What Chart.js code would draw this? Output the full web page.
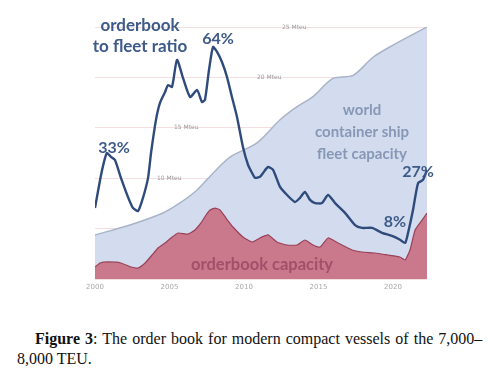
<!DOCTYPE html>
<html><head><meta charset="utf-8">
<script src="https://cdn.jsdelivr.net/npm/chart.js@4/dist/chart.umd.min.js"></script>
<style>
html,body{margin:0;padding:0;background:#fff;width:496px;height:369px;overflow:hidden;}
#wrap{position:absolute;left:0;top:0;width:496px;height:300px;}
#cap{position:absolute;left:17px;top:329px;font-family:"Liberation Serif","Times New Roman",serif;font-size:16px;line-height:20px;color:#111;white-space:nowrap;}
#cap .l1{padding-left:18px;word-spacing:1.05px;}
</style></head>
<body>
<div id="wrap"><canvas id="c"></canvas></div>
<div id="cap"><span class="l1"><b>Figure 3</b>: The order book for modern compact vessels of the 7,000–</span><br>8,000 TEU.</div>
<script>
// orderbook-to-fleet ratio (%)
const ratioYears = [2000.0,2000.34,2000.6,2000.8,2001.07,2001.34,2001.74,2002.08,2002.35,2002.55,2002.89,2003.22,2003.56,2003.76,2004.09,2004.36,2004.7,2004.9,2005.17,2005.5,2005.91,2006.38,2006.85,2007.18,2007.38,2007.65,2007.92,2008.19,2008.52,2008.86,2009.19,2009.53,2009.93,2010.27,2010.54,2010.74,2011.07,2011.28,2011.61,2011.95,2012.42,2012.89,2013.42,2013.76,2014.09,2014.43,2014.77,2015.23,2015.64,2016.11,2016.78,2017.45,2017.92,2018.59,2019.26,2019.93,2020.47,2020.81,2021.01,2021.34,2021.68,2022.01,2022.28];
const ratioValues = [18.0,26.0,31.1,33.7,32.6,31.7,26.6,22.6,19.7,18.0,17.1,20.9,26.6,33.7,43.1,48.0,51.1,53.1,52.6,60.3,55.1,49.7,51.7,48.3,48.9,57.4,64.0,62.6,59.7,55.4,49.7,44.0,35.4,30.3,28.0,26.6,26.9,28.0,29.7,28.9,24.0,21.7,19.7,20.9,22.6,20.3,19.4,19.4,21.7,19.4,16.6,13.1,12.3,12.3,10.9,10.0,8.9,8.0,10.9,17.4,25.1,26.0,28.9];
// world container ship fleet capacity (Mteu)
const fleetYears = [2000.0,2002.35,2004.56,2005.7,2006.85,2007.92,2009.06,2010.87,2012.42,2013.56,2014.63,2015.97,2017.32,2018.66,2020.0,2022.28];
const fleetValues = [4.37,5.36,6.55,7.54,8.83,10.5,12.1,13.5,15.8,17.1,18.1,19.9,20.2,22.0,23.2,25.0];
// orderbook capacity (Mteu)
const orderYears = [2000.0,2000.34,2000.87,2001.74,2002.42,2002.89,2003.36,2003.83,2004.23,2004.7,2005.1,2005.57,2006.24,2006.71,2007.11,2007.45,2007.72,2008.05,2008.39,2008.79,2009.26,2009.93,2010.54,2011.07,2011.61,2012.21,2012.89,2013.56,2014.09,2014.63,2015.1,2015.64,2016.31,2017.25,2017.92,2018.79,2019.66,2020.47,2020.81,2021.14,2021.48,2021.95,2022.28];
const orderValues = [1.19,1.59,1.69,1.59,1.19,1.09,1.59,2.38,3.08,3.57,4.07,4.56,4.46,4.86,5.56,6.35,6.85,7.04,6.85,6.05,5.16,4.17,3.67,4.07,4.37,3.67,3.37,3.37,3.87,3.37,3.17,4.07,3.57,2.88,2.68,2.58,2.38,2.18,1.88,2.88,4.86,5.85,6.55];
const xTickLabels = [2000,2005,2010,2015,2020];
const capacityGridLabels = ['10 Mteu','15 Mteu','20 Mteu','25 Mteu'];

const pts = (xs, ys) => xs.map((x,i)=>({x:x,y:ys[i]}));

const textPlugin = {
  id:'texts',
  beforeDatasetsDraw(chart){
    const {ctx, scales:{x,y}} = chart;
    ctx.save();
    ctx.font = '6px "DejaVu Sans", sans-serif';
    ctx.fillStyle = '#9a9a9a';
    ctx.textBaseline = 'middle';
    ctx.textAlign = 'left';
    const pos = [2004.16, 2005.3, 2010.87, 2012.55];
    capacityGridLabels.forEach((t,i)=>{
      ctx.fillText(t, x.getPixelForValue(pos[i]), y.getPixelForValue(10+5*i));
    });
    ctx.restore();
  },
  afterDatasetsDraw(chart){
    const {ctx, scales:{x,y}} = chart;
    const put = (t, xv, yv, font, color) => {
      ctx.font = font; ctx.fillStyle = color;
      ctx.textAlign = 'center'; ctx.textBaseline = 'alphabetic';
      ctx.fillText(t, x.getPixelForValue(xv), y.getPixelForValue(yv));
    };
    ctx.save();
    const navy = '#3d5a89';
    put('orderbook', 2003.02, 24.6, 'bold 17px Lato', navy);
    put('to fleet ratio', 2003.02, 22.52, 'bold 17px Lato', navy);
    put('64%', 2008.26, 23.31, 'bold 16px Lato', navy);
    put('33%', 2001.28, 12.5, 'bold 16px Lato', navy);
    put('27%', 2021.68, 10.12, 'bold 16px Lato', navy);
    put('8%', 2020.13, 5.16, 'bold 16px Lato', navy);
    const gb = '#8797b6';
    put('world', 2017.92, 16.27, 'bold 15px Lato', gb);
    put('container ship', 2017.92, 14.09, 'bold 15px Lato', gb);
    put('fleet capacity', 2017.92, 11.9, 'bold 15px Lato', gb);
    put('orderbook capacity', 2011.21, 0.89, 'bold 16.5px Lato', 'rgba(150,65,95,0.75)');
    ctx.restore();
  }
};

new Chart(document.getElementById('c'), {
  type:'line',
  data:{datasets:[
    {label:'ratio', data:pts(ratioYears, ratioValues), yAxisID:'y2', borderColor:'#2f4b7c', borderWidth:2.4, pointRadius:0, tension:0.2, fill:false, order:0},
    {label:'orderbook', data:pts(orderYears, orderValues), yAxisID:'y', borderColor:'#9a4058', backgroundColor:'#c9798b', borderWidth:1.2, pointRadius:0, tension:0.15, fill:'origin', order:1},
    {label:'fleet', data:pts(fleetYears, fleetValues), yAxisID:'y', borderColor:'#a9b4c8', backgroundColor:'#d2dcee', borderWidth:1.5, pointRadius:0, tension:0.3, fill:'origin', order:2}
  ]},
  options:{
    responsive:true, maintainAspectRatio:false, animation:false,
    layout:{padding:{left:95,right:69,top:27,bottom:8}},
    plugins:{legend:{display:false}, tooltip:{enabled:false}},
    scales:{
      x:{type:'linear', min:2000, max:2022.28,
        afterBuildTicks: ax => { ax.ticks = xTickLabels.map(v=>({value:v})); },
        afterFit: ax => { ax.height = 13; },
        ticks:{font:{size:7, family:'"DejaVu Sans"'}, color:'#a8a8a8', padding:4, maxRotation:0, autoSkip:false, callback:v=>String(v)},
        grid:{display:false, drawTicks:false, tickLength:0}, border:{display:false}},
      y:{min:0, max:25, display:true, ticks:{display:false, stepSize:5}, grid:{color:'rgba(238,210,210,0.7)', drawTicks:false, tickLength:0}, border:{display:false}},
      y2:{min:-2.3, max:69.7, display:false}
    }
  },
  plugins:[textPlugin]
});
</script>
</body></html>
